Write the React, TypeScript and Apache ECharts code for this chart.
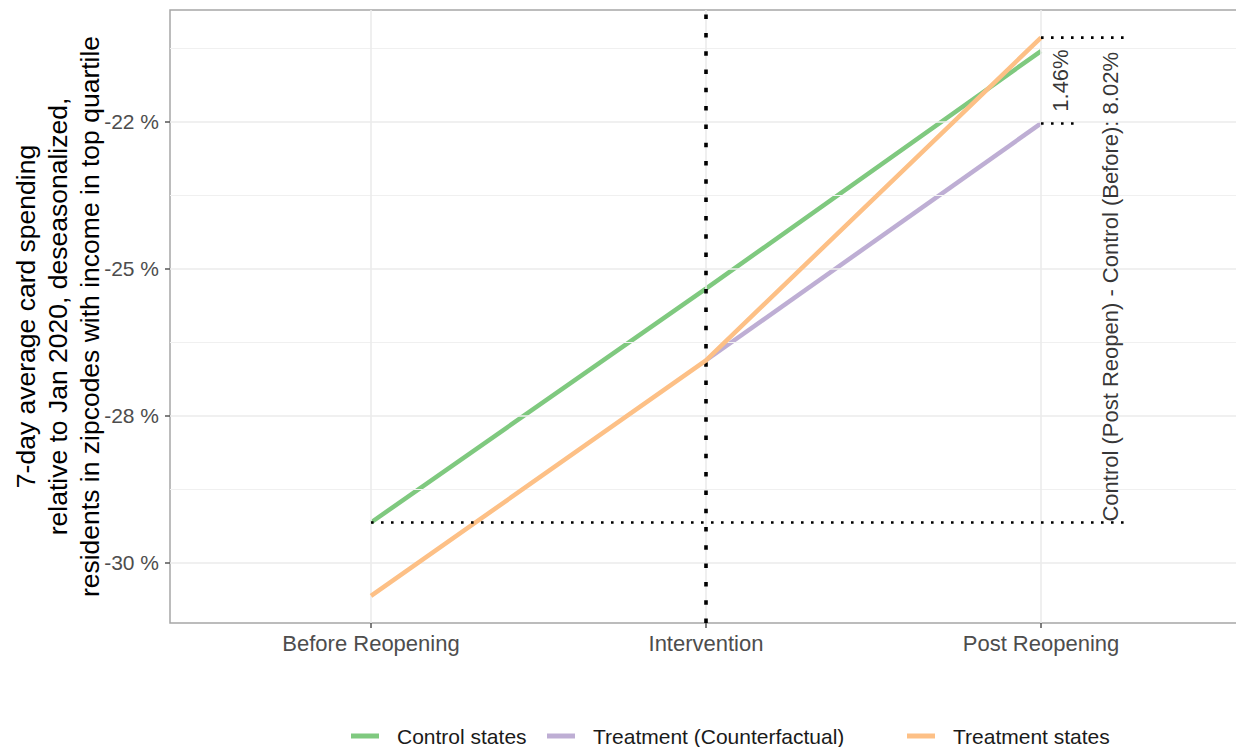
import React, { useEffect, useRef } from "react";
import * as echarts from "echarts";

// ---- data ----
const categories = ["Before Reopening", "Intervention", "Post Reopening"];
const categoryPositions = [1, 2, 3];
const seriesNames = ["Control states", "Treatment (Counterfactual)", "Treatment states"];
const controlStates = [-29.32, -25.34, -21.3];
const treatmentCounterfactual: (number | null)[] = [null, -26.56, -22.53];
const treatmentStates = [-30.57, -26.56, -21.07];
const yTickValues = [-30, -27.5, -25, -22.5];
const yTickLabels = ["-30 %", "-28 %", "-25 %", "-22 %"];
const yMinorValues = [-28.75, -26.25, -23.75, -21.25];
const yTitle =
  "7-day average card spending\nrelative to Jan 2020, deseasonalized,\nresidents in zipcodes with income in top quartile";

// ---- styles / layout constants ----
const COLORS = ["#7FC97F", "#BEAED4", "#FDC086"];
const FONT = "'Liberation Sans', Arial, Helvetica, sans-serif";
const X_MIN = 0.4;
const X_MAX = 3.6;
const Y_MIN = -31.03;
const Y_MAX = -20.6;
const REF_END_LONG = 3.25;
const REF_END_SHORT = 3.1;
const LABEL_X_SHORT = 3.057;
const LABEL_X_LONG = 3.206;
const LEGEND_LEFTS = [351, 547, 907];

export default function App() {
  const ref = useRef<HTMLDivElement>(null);

  useEffect(() => {
    if (!ref.current) return;
    const chart = echarts.init(ref.current, undefined, { renderer: "svg" });

    const toPairs = (vals: (number | null)[]) =>
      vals.map((v, i) => [categoryPositions[i], v]).filter((p) => p[1] !== null);

    const diffSmall = (treatmentStates[2] - (treatmentCounterfactual[2] as number)).toFixed(2);
    const diffLarge = (controlStates[2] - controlStates[0]).toFixed(2);

    const gridMajor = { color: "#EBEBEB", width: 1.6, type: "solid" as const };
    const gridMinor = { color: "#F0F0F0", width: 1.1, type: "solid" as const };

    const horizDotted = { color: "#000", width: 2.6, type: [2.6, 7.4] as any, cap: "butt" as const };

    const option: any = {
      animation: false,
      backgroundColor: "#fff",
      textStyle: { fontFamily: FONT },
      grid: {
        left: 170,
        top: 10,
        width: 1072,
        height: 613,
        outerBoundsMode: "none",
        containLabel: false,
        show: true,
        borderColor: "#A6A6A6",
        borderWidth: 1.5,
        backgroundColor: "transparent",
      },
      xAxis: {
        type: "value",
        min: X_MIN,
        max: X_MAX,
        axisLine: { show: false },
        splitLine: { show: false },
        axisTick: {
          show: true,
          customValues: categoryPositions,
          length: 5,
          lineStyle: { color: "#555", width: 1.5 },
        },
        axisLabel: {
          customValues: categoryPositions,
          formatter: (v: number) => categories[categoryPositions.indexOf(Math.round(v))] ?? "",
          color: "#4D4D4D",
          fontSize: 22,
          fontFamily: FONT,
          margin: 9,
        },
      },
      yAxis: {
        type: "value",
        min: Y_MIN,
        max: Y_MAX,
        axisLine: { show: false },
        splitLine: { show: false },
        axisTick: {
          show: true,
          customValues: yTickValues,
          length: 5,
          lineStyle: { color: "#555", width: 1.5 },
        },
        axisLabel: {
          customValues: yTickValues,
          formatter: (v: number) => {
            const i = yTickValues.findIndex((t) => Math.abs(t - v) < 1e-6);
            return i >= 0 ? yTickLabels[i] : "";
          },
          color: "#4D4D4D",
          fontSize: 21,
          fontFamily: FONT,
          margin: 11,
        },
        name: yTitle,
        nameLocation: "middle",
        nameRotate: 90,
        nameGap: 64,
        nameMoveOverlap: false,
        nameTextStyle: {
          color: "#000",
          fontSize: 26.5,
          lineHeight: 32,
          fontFamily: FONT,
          align: "center",
        },
      },
      legend: seriesNames.map((name, i) => ({
        data: [name],
        top: 724,
        left: LEGEND_LEFTS[i],
        padding: 0,
        icon: "rect",
        itemWidth: 28,
        itemHeight: 5,
        selectedMode: false,
        textStyle: {
          color: "#1A1A1A",
          fontSize: 21,
          lineHeight: 24,
          fontFamily: FONT,
          padding: [0, 0, 0, 13],
        },
      })),
      series: [
        {
          name: "gridlines",
          type: "line",
          data: [[categoryPositions[0], yTickValues[0]]],
          symbol: "none",
          lineStyle: { opacity: 0 },
          silent: true,
          z: 0,
          markLine: {
            silent: true,
            symbol: "none",
            label: { show: false },
            animation: false,
            data: [
              ...yMinorValues.map((v) => ({ yAxis: v, lineStyle: gridMinor })),
              ...yTickValues.map((v) => ({ yAxis: v, lineStyle: gridMajor })),
              ...categoryPositions.map((v) => ({ xAxis: v, lineStyle: gridMajor })),
            ],
          },
        },
        ...seriesNames.map((name, i) => ({
          name,
          type: "line",
          data: toPairs([controlStates, treatmentCounterfactual, treatmentStates][i]),
          symbol: "none",
          lineStyle: { color: COLORS[i], width: 4.5 },
          itemStyle: { color: COLORS[i] },
          z: 3 + i,
        })),
        {
          name: "refControlBefore",
          type: "line",
          data: [
            [categoryPositions[0], controlStates[0]],
            [REF_END_LONG, controlStates[0]],
          ],
          symbol: "none",
          lineStyle: horizDotted,
          z: 8,
          silent: true,
        },
        {
          name: "refTreatPost",
          type: "line",
          data: [
            [categoryPositions[2], treatmentStates[2]],
            [REF_END_LONG, treatmentStates[2]],
          ],
          symbol: "none",
          lineStyle: horizDotted,
          z: 8,
          silent: true,
        },
        {
          name: "refCfPost",
          type: "line",
          data: [
            [categoryPositions[2], treatmentCounterfactual[2]],
            [REF_END_SHORT, treatmentCounterfactual[2]],
          ],
          symbol: "none",
          lineStyle: horizDotted,
          z: 8,
          silent: true,
          markLine: {
            silent: true,
            symbol: "none",
            label: { show: false },
            data: [
              {
                xAxis: categoryPositions[1],
                lineStyle: { color: "#000", width: 3.6, type: [4.5, 13.8], cap: "butt" },
              },
            ],
          },
        },
        {
          name: "annotations",
          type: "scatter",
          symbolSize: 0,
          silent: true,
          z: 9,
          data: [
            {
              value: [LABEL_X_SHORT, (treatmentStates[2] + (treatmentCounterfactual[2] as number)) / 2],
              label: { formatter: `${diffSmall}%` },
            },
            {
              value: [LABEL_X_LONG, (controlStates[2] + controlStates[0]) / 2],
              label: { formatter: `Control (Post Reopen) - Control (Before): ${diffLarge}%` },
            },
          ],
          label: {
            show: true,
            position: "inside",
            rotate: 90,
            align: "center",
            verticalAlign: "middle",
            color: "#000",
            fontSize: 22,
            fontFamily: FONT,
          },
        },
      ],
    };

    chart.setOption(option);
    return () => chart.dispose();
  }, []);

  return (
    <div
      ref={ref}
      style={{ position: "fixed", left: 0, top: 0, width: 1236, height: 747, background: "#fff" }}
    />
  );
}
